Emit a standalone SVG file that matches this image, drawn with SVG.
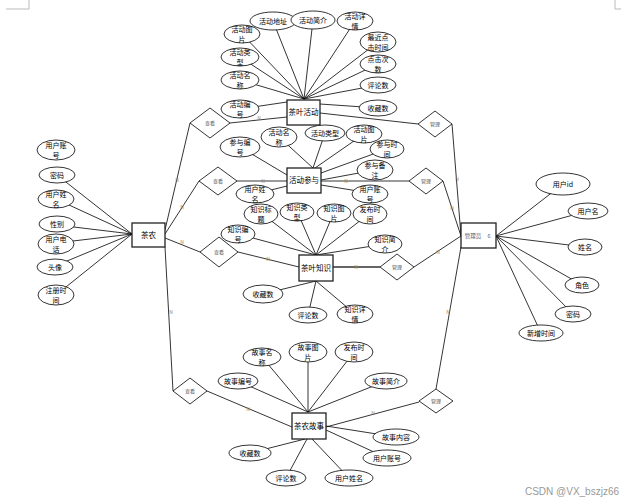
<svg xmlns="http://www.w3.org/2000/svg" width="621" height="502" viewBox="0 0 621 502">
<style>
.c line{stroke:#000;stroke-width:0.8}
.c .thick{stroke:#666;stroke-width:2}
.b{fill:#fff;stroke:#222;stroke-width:1.3}
.e{fill:#fff;stroke:#000;stroke-width:0.8}
.d{fill:#fff;stroke:#000;stroke-width:0.8}
text{font-family:"Noto Sans CJK SC","Liberation Sans",sans-serif;text-anchor:middle}
.t{font-size:7px;fill:#000}
.bt{font-size:7.5px;fill:#000}
.dt{font-size:5px;fill:#555}
.n{font-size:5px;fill:#998866}
.mk{stroke:#aaa;stroke-width:0.8;fill:none}
</style>
<rect width="621" height="502" fill="#fff"/>
<path class="mk" d="M6 9H29V0M615 0V9H621"/>
<g class="c" id="connectors">
<line x1="273" y1="21" x2="304" y2="99"/><line x1="313" y1="20" x2="304" y2="99"/><line x1="355" y1="21" x2="304" y2="99"/>
<line x1="242" y1="34" x2="304" y2="99"/><line x1="378" y1="42" x2="304" y2="99"/><line x1="240" y1="57" x2="304" y2="99"/>
<line x1="378" y1="64" x2="304" y2="99"/><line x1="240" y1="80" x2="304" y2="99"/><line x1="378" y1="85" x2="304" y2="99"/>
<line x1="240" y1="109" x2="287" y2="102"/><line x1="378" y1="108" x2="320" y2="104"/>
<line x1="240" y1="147" x2="287" y2="175"/><line x1="279" y1="137" x2="313" y2="168"/><line x1="325" y1="133" x2="313" y2="168"/>
<line x1="364" y1="134" x2="315" y2="168"/><line x1="387" y1="149" x2="321" y2="173"/><line x1="375" y1="170" x2="321" y2="180"/>
<line x1="370" y1="193" x2="321" y2="185"/><line x1="255" y1="194" x2="287" y2="186"/>
<line x1="238" y1="234" x2="316" y2="255"/><line x1="261" y1="213" x2="316" y2="255"/><line x1="297" y1="211" x2="316" y2="255"/>
<line x1="334" y1="212" x2="316" y2="255"/><line x1="370" y1="213" x2="316" y2="255"/><line x1="385" y1="244" x2="316" y2="255"/>
<line x1="263" y1="294" x2="316" y2="281"/><line x1="308" y1="315" x2="316" y2="281"/><line x1="355" y1="314" x2="316" y2="281"/>
<line x1="57" y1="175" x2="132" y2="234"/><line x1="56" y1="199" x2="132" y2="234"/><line x1="57" y1="225" x2="132" y2="234"/>
<line x1="56" y1="243" x2="132" y2="234"/><line x1="55" y1="266" x2="132" y2="234"/><line x1="56" y1="295" x2="132" y2="234"/>
<line x1="563" y1="184" x2="496" y2="236"/><line x1="588" y1="211" x2="496" y2="236"/><line x1="585" y1="247" x2="496" y2="236"/>
<line x1="582" y1="285" x2="496" y2="236"/><line x1="573" y1="314" x2="496" y2="236"/><line x1="541" y1="333" x2="496" y2="236"/>
<line x1="262" y1="357" x2="308" y2="412"/><line x1="308" y1="352" x2="308" y2="412"/><line x1="354" y1="352" x2="308" y2="412"/>
<line x1="238" y1="381" x2="308" y2="412"/><line x1="386" y1="381" x2="308" y2="412"/>
<line x1="396" y1="437" x2="326" y2="426"/><line x1="387" y1="458" x2="326" y2="430"/><line x1="349" y1="478" x2="312" y2="439"/>
<line x1="286" y1="478" x2="307" y2="439"/><line x1="250" y1="453" x2="305" y2="439"/>
<line x1="165" y1="230" x2="190" y2="123"/><line x1="165" y1="234" x2="199" y2="181"/>
<line x1="165" y1="238" x2="200" y2="252"/><line x1="165" y1="247" x2="173" y2="391"/>
<line x1="230" y1="123" x2="287" y2="117"/><line x1="237" y1="181" x2="287" y2="181"/>
<line x1="238" y1="252" x2="299" y2="267"/><line x1="207" y1="391" x2="292" y2="427"/>
<line x1="320" y1="113" x2="418" y2="124"/><line x1="321" y1="181" x2="409" y2="181"/>
<line class="thick" x1="333" y1="267" x2="380" y2="267"/><line x1="326" y1="427" x2="419" y2="402"/>
<line x1="452" y1="124" x2="461" y2="236"/><line x1="443" y1="181" x2="461" y2="236"/>
<line x1="414" y1="267" x2="461" y2="236"/><line x1="436" y1="389" x2="461" y2="247"/>
<text class="n" x="259" y="120">N</text><text class="n" x="177" y="182">N</text>
<text class="n" x="263" y="183">N</text><text class="n" x="182" y="209">N</text>
<text class="n" x="182" y="244">N</text><text class="n" x="268" y="261">N</text>
<text class="n" x="171" y="314">N</text><text class="n" x="248" y="411">N</text>
<text class="n" x="346" y="183">N</text><text class="n" x="356" y="269">N</text>
<text class="n" x="373" y="415">N</text><text class="n" x="457" y="181">N</text>
<text class="n" x="452" y="210">N</text><text class="n" x="438" y="254">N</text>
<text class="n" x="448" y="314">N</text>
</g>
<g id="chayehuodong"><rect class="b" x="287" y="100" width="33" height="25"/><text class="bt" x="303.5" y="115">茶叶活动</text></g>
<g id="huodongcanyu"><rect class="b" x="287" y="168" width="34" height="25"/><text class="bt" x="304" y="183">活动参与</text></g>
<g id="chayezhishi"><rect class="b" x="299" y="255" width="34" height="26"/><text class="bt" x="316" y="270.5">茶叶知识</text></g>
<g id="chanong"><rect class="b" x="132" y="223" width="33" height="24"/><text class="bt" x="148.5" y="237.5">茶农</text></g>
<g id="guanliyuan"><rect class="b" x="461" y="223" width="35" height="25"/><text x="473" y="237.5" style="font-size:5.5px;fill:#556">管理员</text><text x="489" y="237.5" style="font-size:5.5px;fill:#556">6</text></g>
<g id="chanonggushi"><rect class="b" x="292" y="413" width="34" height="26"/><text class="bt" x="309" y="428.5">茶农故事</text></g>
<g id="r-chakan1"><path class="d" d="M190 123L210 108L230 123L210 138Z"/><text class="dt" x="210" y="125">查看</text></g>
<g id="r-chakan2"><path class="d" d="M199 181L218 167L237 181L218 195Z"/><text class="dt" x="218" y="183">查看</text></g>
<g id="r-chakan3"><path class="d" d="M200 252L219 237L238 252L219 267Z"/><text class="dt" x="219" y="254">查看</text></g>
<g id="r-chakan4"><path class="d" d="M173 391L190 378L207 391L190 404Z"/><text class="dt" x="190" y="393">查看</text></g>
<g id="r-guanli1"><path class="d" d="M418 124L435 111L452 124L435 137Z"/><text class="dt" x="435" y="126">管理</text></g>
<g id="r-guanli2"><path class="d" d="M409 181L426 168L443 181L426 194Z"/><text class="dt" x="426" y="183">管理</text></g>
<g id="r-guanli3"><path class="d" d="M380 267L397 254L414 267L397 280Z"/><text class="dt" x="397" y="269">管理</text></g>
<g id="r-guanli4"><path class="d" d="M419 401L436 389L453 401L436 413Z"/><text class="dt" x="436" y="403">管理</text></g>
<g id="a1"><ellipse class="e" cx="273" cy="21" rx="23" ry="9"/><text class="t" x="273" y="23.5">活动地址</text></g>
<g id="a2"><ellipse class="e" cx="313" cy="20" rx="22" ry="9"/><text class="t" x="313" y="22.5">活动简介</text></g>
<g id="a3"><ellipse class="e" cx="355" cy="21" rx="18" ry="9"/><text class="t" x="355" y="19">活动详</text><text class="t" x="355" y="29">情</text></g>
<g id="a4"><ellipse class="e" cx="242" cy="34" rx="18" ry="9"/><text class="t" x="242" y="32">活动图</text><text class="t" x="242" y="42">片</text></g>
<g id="a5"><ellipse class="e" cx="378" cy="42" rx="18" ry="10"/><text class="t" x="378" y="40">最近点</text><text class="t" x="378" y="50">击时间</text></g>
<g id="a6"><ellipse class="e" cx="240" cy="57" rx="19" ry="9"/><text class="t" x="240" y="55">活动类</text><text class="t" x="240" y="65">型</text></g>
<g id="a7"><ellipse class="e" cx="378" cy="64" rx="18" ry="9"/><text class="t" x="378" y="62">点击次</text><text class="t" x="378" y="72">数</text></g>
<g id="a8"><ellipse class="e" cx="240" cy="80" rx="19" ry="9"/><text class="t" x="240" y="78">活动名</text><text class="t" x="240" y="88">称</text></g>
<g id="a9"><ellipse class="e" cx="378" cy="85" rx="18" ry="8"/><text class="t" x="378" y="87.5">评论数</text></g>
<g id="a10"><ellipse class="e" cx="240" cy="109" rx="19" ry="9"/><text class="t" x="240" y="107">活动编</text><text class="t" x="240" y="117">号</text></g>
<g id="a11"><ellipse class="e" cx="378" cy="108" rx="19" ry="8"/><text class="t" x="378" y="110.5">收藏数</text></g>
<g id="b1"><ellipse class="e" cx="240" cy="147" rx="20" ry="10"/><text class="t" x="240" y="145">参与编</text><text class="t" x="240" y="155">号</text></g>
<g id="b2"><ellipse class="e" cx="279" cy="137" rx="18" ry="10"/><text class="t" x="279" y="135">活动名</text><text class="t" x="279" y="145">称</text></g>
<g id="b3"><ellipse class="e" cx="325" cy="133" rx="20" ry="8"/><text class="t" x="325" y="135.5">活动类型</text></g>
<g id="b4"><ellipse class="e" cx="364" cy="134" rx="18" ry="9"/><text class="t" x="364" y="132">活动图</text><text class="t" x="364" y="142">片</text></g>
<g id="b5"><ellipse class="e" cx="387" cy="149" rx="17" ry="9"/><text class="t" x="387" y="147">参与时</text><text class="t" x="387" y="157">间</text></g>
<g id="b6"><ellipse class="e" cx="375" cy="170" rx="18" ry="10"/><text class="t" x="375" y="168">参与备</text><text class="t" x="375" y="178">注</text></g>
<g id="b7"><ellipse class="e" cx="370" cy="194" rx="18" ry="9"/><text class="t" x="370" y="192">用户账</text><text class="t" x="370" y="202">号</text></g>
<g id="b8"><ellipse class="e" cx="255" cy="194" rx="19" ry="9"/><text class="t" x="255" y="192">用户姓</text><text class="t" x="255" y="202">名</text></g>
<g id="c1"><ellipse class="e" cx="238" cy="234" rx="17" ry="9"/><text class="t" x="238" y="232">知识编</text><text class="t" x="238" y="242">号</text></g>
<g id="c2"><ellipse class="e" cx="261" cy="214" rx="17" ry="10"/><text class="t" x="261" y="212">知识标</text><text class="t" x="261" y="222">题</text></g>
<g id="c3"><ellipse class="e" cx="297" cy="212" rx="17" ry="9"/><text class="t" x="297" y="210">知识类</text><text class="t" x="297" y="220">型</text></g>
<g id="c4"><ellipse class="e" cx="334" cy="213" rx="17" ry="9"/><text class="t" x="334" y="211">知识图</text><text class="t" x="334" y="221">片</text></g>
<g id="c5"><ellipse class="e" cx="370" cy="214" rx="17" ry="10"/><text class="t" x="370" y="212">发布时</text><text class="t" x="370" y="222">间</text></g>
<g id="c6"><ellipse class="e" cx="385" cy="244" rx="17" ry="9"/><text class="t" x="385" y="242">知识简</text><text class="t" x="385" y="252">介</text></g>
<g id="c7"><ellipse class="e" cx="263" cy="294" rx="20" ry="9"/><text class="t" x="263" y="296.5">收藏数</text></g>
<g id="c8"><ellipse class="e" cx="308" cy="315" rx="19" ry="8"/><text class="t" x="308" y="317.5">评论数</text></g>
<g id="c9"><ellipse class="e" cx="355" cy="314" rx="18" ry="9"/><text class="t" x="355" y="312">知识详</text><text class="t" x="355" y="322">情</text></g>
<g id="d1"><ellipse class="e" cx="56" cy="150" rx="19" ry="10"/><text class="t" x="56" y="148">用户账</text><text class="t" x="56" y="158">号</text></g>
<g id="d2"><ellipse class="e" cx="57" cy="175" rx="18" ry="8"/><text class="t" x="57" y="177.5">密码</text></g>
<g id="d3"><ellipse class="e" cx="56" cy="199" rx="18" ry="9"/><text class="t" x="56" y="197">用户姓</text><text class="t" x="56" y="207">名</text></g>
<g id="d4"><ellipse class="e" cx="57" cy="224" rx="18" ry="8"/><text class="t" x="57" y="226.5">性别</text></g>
<g id="d5"><ellipse class="e" cx="56" cy="244" rx="18" ry="10"/><text class="t" x="56" y="242">用户电</text><text class="t" x="56" y="252">话</text></g>
<g id="d6"><ellipse class="e" cx="55" cy="267" rx="18" ry="8"/><text class="t" x="55" y="269.5">头像</text></g>
<g id="d7"><ellipse class="e" cx="56" cy="295" rx="18" ry="10"/><text class="t" x="56" y="293">注册时</text><text class="t" x="56" y="303">间</text></g>
<g id="m1"><ellipse class="e" cx="563" cy="184" rx="27" ry="11"/><text class="t" x="563" y="186.5">用户id</text></g>
<g id="m2"><ellipse class="e" cx="588" cy="211" rx="20" ry="8"/><text class="t" x="588" y="213.5">用户名</text></g>
<g id="m3"><ellipse class="e" cx="585" cy="247" rx="17" ry="8"/><text class="t" x="585" y="249.5">姓名</text></g>
<g id="m4"><ellipse class="e" cx="582" cy="285" rx="17" ry="8"/><text class="t" x="582" y="287.5">角色</text></g>
<g id="m5"><ellipse class="e" cx="573" cy="314" rx="18" ry="8"/><text class="t" x="573" y="316.5">密码</text></g>
<g id="m6"><ellipse class="e" cx="541" cy="333" rx="22" ry="8"/><text class="t" x="541" y="335.5">新增时间</text></g>
<g id="s1"><ellipse class="e" cx="262" cy="357" rx="19" ry="9"/><text class="t" x="262" y="355">故事名</text><text class="t" x="262" y="365">称</text></g>
<g id="s2"><ellipse class="e" cx="308" cy="352" rx="19" ry="10"/><text class="t" x="308" y="350">故事图</text><text class="t" x="308" y="360">片</text></g>
<g id="s3"><ellipse class="e" cx="354" cy="352" rx="19" ry="10"/><text class="t" x="354" y="350">发布时</text><text class="t" x="354" y="360">间</text></g>
<g id="s4"><ellipse class="e" cx="238" cy="381" rx="20" ry="8"/><text class="t" x="238" y="383.5">故事编号</text></g>
<g id="s5"><ellipse class="e" cx="386" cy="381" rx="21" ry="8"/><text class="t" x="386" y="383.5">故事简介</text></g>
<g id="s6"><ellipse class="e" cx="396" cy="437" rx="23" ry="8"/><text class="t" x="396" y="439.5">故事内容</text></g>
<g id="s7"><ellipse class="e" cx="387" cy="458" rx="24" ry="8"/><text class="t" x="387" y="460.5">用户账号</text></g>
<g id="s8"><ellipse class="e" cx="349" cy="478" rx="24" ry="8"/><text class="t" x="349" y="480.5">用户姓名</text></g>
<g id="s9"><ellipse class="e" cx="286" cy="478" rx="20" ry="8"/><text class="t" x="286" y="480.5">评论数</text></g>
<g id="s10"><ellipse class="e" cx="250" cy="453" rx="21" ry="8"/><text class="t" x="250" y="455.5">收藏数</text></g>
<text x="572" y="495" style="font-size:10px;fill:#999;font-family:'Liberation Sans',sans-serif">CSDN @VX_bszjz66</text>
</svg>
